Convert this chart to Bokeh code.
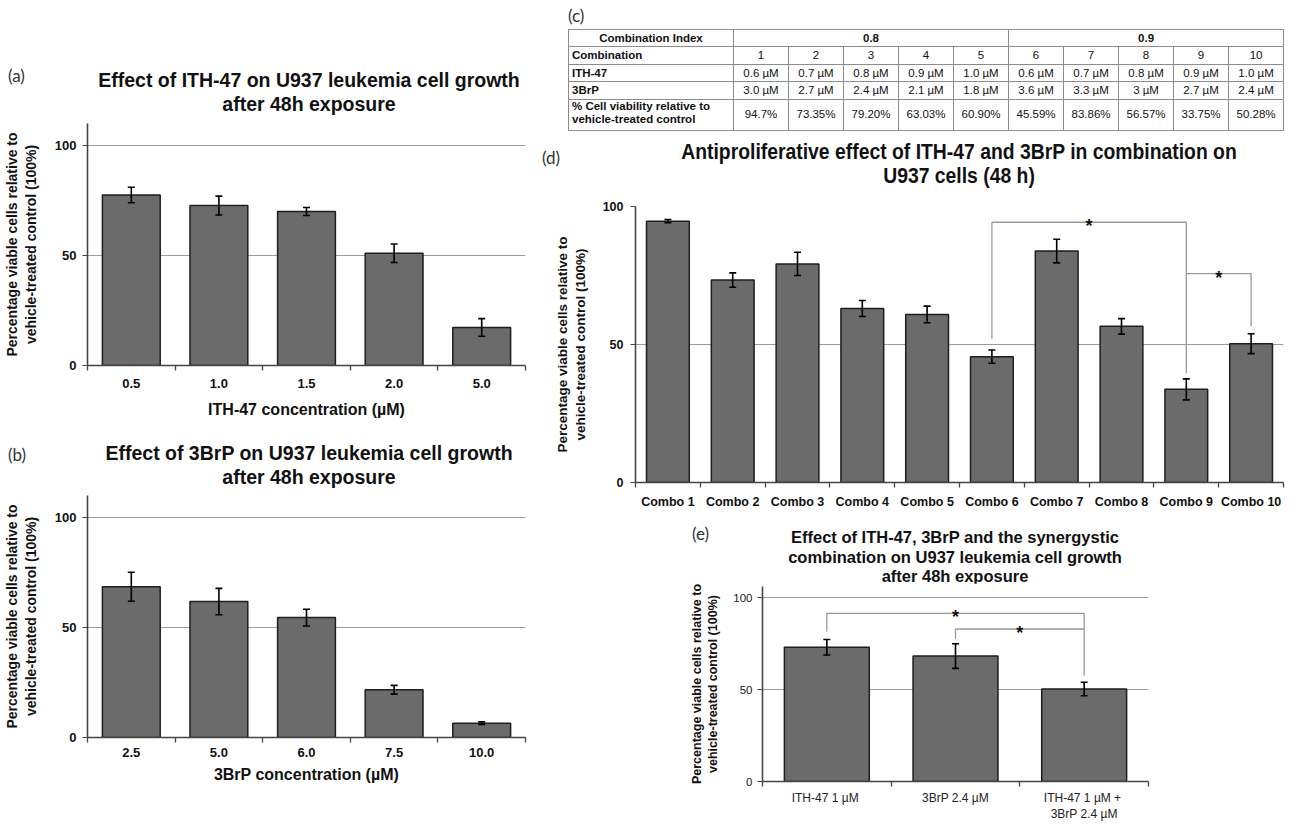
import glob
from bokeh.plotting import figure
from bokeh.models import ColumnDataSource, Whisker, TeeHead, FixedTicker, Div, Range1d
from bokeh.layouts import row, column
from bokeh.embed import file_html
from bokeh.resources import INLINE
from bokeh.core.properties import value

# ---------------- data ----------------
ith_conc = ["0.5", "1.0", "1.5", "2.0", "5.0"]
ith_viab = [77.5, 72.7, 70.0, 51.0, 17.3]
ith_err = [3.5, 4.3, 1.8, 4.2, 4.0]

brp_conc = ["2.5", "5.0", "6.0", "7.5", "10.0"]
brp_viab = [68.5, 61.8, 54.5, 21.7, 6.5]
brp_err = [6.6, 6.0, 3.8, 2.0, 0.6]

ci_groups = ["0.8", "0.9"]
combo_numbers = ["1", "2", "3", "4", "5", "6", "7", "8", "9", "10"]
combo_ith = ["0.6 µM", "0.7 µM", "0.8 µM", "0.9 µM", "1.0 µM",
             "0.6 µM", "0.7 µM", "0.8 µM", "0.9 µM", "1.0 µM"]
combo_brp = ["3.0 µM", "2.7 µM", "2.4 µM", "2.1 µM", "1.8 µM",
             "3.6 µM", "3.3 µM", "3 µM", "2.7 µM", "2.4 µM"]
combo_viab_text = ["94.7%", "73.35%", "79.20%", "63.03%", "60.90%",
                   "45.59%", "83.86%", "56.57%", "33.75%", "50.28%"]

combo_labels = ["Combo 1", "Combo 2", "Combo 3", "Combo 4", "Combo 5",
                "Combo 6", "Combo 7", "Combo 8", "Combo 9", "Combo 10"]
combo_viab = [94.7, 73.35, 79.20, 63.03, 60.90, 45.59, 83.86, 56.57, 33.75, 50.28]
combo_err = [0.6, 2.6, 4.2, 2.9, 3.0, 2.4, 4.3, 2.8, 3.8, 3.6]

d_bracket_from = [5, 8]
d_bracket_to = [8, 9]
d_bracket_top = [94.3, 75.7]
d_bracket_left_end = [52.0, 75.7]
d_bracket_right_end = [39.5, 56.6]

syn_labels = ["ITH-47  1 µM", "3BrP 2.4 µM", "ITH-47  1 µM +\n3BrP 2.4 µM"]
syn_viab = [73.0, 68.2, 50.28]
syn_err = [4.2, 6.7, 3.7]
e_bracket_from = [0, 1]
e_bracket_to = [2, 2]
e_bracket_top = [91.4, 82.9]
e_bracket_left_end = [81.6, 77.4]
e_bracket_right_end = [57.5, 82.9]

YLAB = "Percentage viable cells relative to\nvehicle-treated control (100%)"
title_a = ["Effect of ITH-47 on U937 leukemia cell growth", "after 48h exposure"]
title_b = ["Effect of 3BrP on U937 leukemia cell growth", "after 48h exposure"]
title_d = ["Antiproliferative effect of ITH-47 and 3BrP in combination on", "U937 cells (48 h)"]
title_e = ["Effect of ITH-47, 3BrP and the synergystic",
           "combination on U937 leukemia cell growth", "after 48h exposure"]

# ---------------- fonts ----------------
HAS_NARROW = bool(glob.glob("/usr/share/fonts/**/LiberationSansNarrow*", recursive=True))
SANS = "Liberation Sans"
NARROW = "Liberation Sans Narrow" if HAS_NARROW else SANS
PANEL_FONT = "Lato"
AXIS_COLOR = "#454545"


def bar_figure(cats, vals, errs, width, height, left, right, top, bottom, ymax,
               ylab_size, ytick_size, ytick_style, xtick_size, xtick_style,
               ylab_standoff, ytick_standoff, xtick_standoff, tick_color="#111111",
               xtick_font=SANS):
    n = len(cats)
    centers = [i + 0.5 for i in range(n)]
    p = figure(width=width, height=height, x_range=Range1d(0, n), y_range=Range1d(0, ymax),
               output_backend="svg", toolbar_location=None,
               min_border_left=left, min_border_right=right,
               min_border_top=top, min_border_bottom=bottom)
    if "frame_align" in p.properties():
        p.frame_align = False
    p.outline_line_color = None
    p.background_fill_color = "white"
    p.border_fill_color = "white"
    src = ColumnDataSource(dict(x=centers, top=vals,
                                upper=[v + e for v, e in zip(vals, errs)],
                                lower=[v - e for v, e in zip(vals, errs)]))
    p.vbar(x="x", top="top", bottom=0, width=0.66, source=src,
           fill_color="#6b6b6b", line_color="#1e1e1e", line_width=1.5)
    p.add_layout(Whisker(base="x", upper="upper", lower="lower", source=src,
                         level="overlay", line_color="black", line_width=1.6,
                         upper_head=TeeHead(size=7, line_color="black", line_width=1.6),
                         lower_head=TeeHead(size=7, line_color="black", line_width=1.6)))
    xa = p.xaxis[0]
    xa.ticker = FixedTicker(ticks=centers, minor_ticks=list(range(n + 1)))
    xa.major_label_overrides = {c: lab for c, lab in zip(centers, cats)}
    xa.major_tick_line_color = None
    xa.major_tick_out = 0
    xa.major_tick_in = 0
    xa.minor_tick_line_color = AXIS_COLOR
    xa.minor_tick_line_width = 1.3
    xa.minor_tick_out = 5
    xa.minor_tick_in = 0
    xa.axis_line_color = AXIS_COLOR
    xa.axis_line_width = 1.6
    xa.major_label_text_font = xtick_font
    xa.major_label_text_font_size = f"{xtick_size}px"
    xa.major_label_text_font_style = xtick_style
    xa.major_label_text_color = tick_color
    xa.major_label_standoff = xtick_standoff
    ya = p.yaxis[0]
    ya.ticker = FixedTicker(ticks=[0, 50, 100])
    ya.minor_tick_line_color = None
    ya.major_tick_out = 5
    ya.major_tick_in = 0
    ya.major_tick_line_color = AXIS_COLOR
    ya.major_tick_line_width = 1.2
    ya.axis_line_color = AXIS_COLOR
    ya.axis_line_width = 1.6
    ya.major_label_text_font = SANS
    ya.major_label_text_font_size = f"{ytick_size}px"
    ya.major_label_text_font_style = ytick_style
    ya.major_label_text_color = tick_color
    ya.major_label_standoff = ytick_standoff
    ya.axis_label = YLAB
    ya.axis_label_text_font = SANS
    ya.axis_label_text_font_size = f"{ylab_size}px"
    ya.axis_label_text_font_style = "bold"
    ya.axis_label_text_color = "#111111"
    ya.axis_label_standoff = ylab_standoff
    p.xgrid.visible = False
    p.ygrid.ticker = FixedTicker(ticks=[50, 100])
    p.ygrid.grid_line_color = "#9c9c9c"
    p.ygrid.grid_line_width = 1.2
    return p


def add_brackets(p, frm, to, tops, lends, rends, star_size=18):
    xs, ys, sx, sy = [], [], [], []
    for i, j, t, l, r in zip(frm, to, tops, lends, rends):
        xs.append([i + 0.5, i + 0.5, j + 0.5, j + 0.5])
        ys.append([l, t, t, r])
        sx.append((i + j) / 2 + 0.5)
        sy.append(t)
    p.multi_line(xs=xs, ys=ys, line_color="#9a9a9a", line_width=1.3)
    p.text(x=sx, y=sy, text=["*"] * len(sx), text_font=value(SANS),
           text_font_size=value(f"{star_size}px"), text_font_style="bold",
           text_align="center", text_baseline="alphabetic", y_offset=4,
           text_color="#111111")


def header_div(width, height, panel, px, py, lines, tx, ty, size, line_h, font, sx=1.0):
    """py / ty: vertical centre of the panel letter / first title line."""
    html = (f'<div style="position:relative;width:{width}px;height:{height}px;">'
            f'<div style="position:absolute;left:{px}px;top:{py - 11}px;font-family:{PANEL_FONT};'
            f'font-size:17px;line-height:22px;color:#333;">{panel}</div>'
            f'<div style="position:absolute;left:{tx}px;top:{ty - line_h / 2}px;'
            f'transform:translateX(-50%) scaleX({sx});transform-origin:50% 0;'
            f'text-align:center;white-space:nowrap;font-family:\'{font}\',\'Liberation Sans\',sans-serif;'
            f'font-weight:bold;font-size:{size}px;line-height:{line_h}px;color:#111;">'
            + "<br>".join(lines) + "</div></div>")
    return Div(text=html, width=width, height=height, margin=0)


def xlabel(p, text, standoff):
    p.xaxis.axis_label = text
    p.xaxis.axis_label_text_font = SANS
    p.xaxis.axis_label_text_font_size = "16px"
    p.xaxis.axis_label_text_font_style = "bold"
    p.xaxis.axis_label_text_color = "#111111"
    p.xaxis.axis_label_standoff = standoff


# ---------------- (a) ----------------
hdr_a = header_div(540, 115, "(a)", 8, 76, title_a, 309, 80, 19.5, 24, SANS)
fa = bar_figure(ith_conc, ith_viab, ith_err, width=540, height=310,
                left=87, right=15, top=8, bottom=60, ymax=110,
                ylab_size=14, ytick_size=13, ytick_style="bold",
                xtick_size=13, xtick_style="bold",
                ylab_standoff=13, ytick_standoff=6, xtick_standoff=8)
xlabel(fa, "ITH-47 concentration (µM)", 10)

# ---------------- (b) ----------------
hdr_b = header_div(540, 64, "(b)", 8, 30, title_b, 309, 28, 19.5, 24, SANS)
fb = bar_figure(brp_conc, brp_viab, brp_err, width=540, height=301,
                left=87, right=15, top=6, bottom=53, ymax=110,
                ylab_size=14, ytick_size=13, ytick_style="bold",
                xtick_size=13, xtick_style="bold",
                ylab_standoff=13, ytick_standoff=6, xtick_standoff=5)
xlabel(fb, "3BrP concentration (µM)", 6)

# ---------------- (c) table ----------------
hdr_size = "12.5px" if HAS_NARROW else "11.5px"
val_size = "12.5px" if HAS_NARROW else "11.5px"
td = ("border:1px solid #8c8c8c;padding:0 3px;white-space:nowrap;overflow:hidden;"
      f"font-size:{val_size};color:#111;")
lab = td + f"font-weight:bold;text-align:left;vertical-align:top;font-size:{hdr_size};"
num = td + "text-align:center;vertical-align:bottom;"
trs = []
trs.append('<tr style="height:16px">'
           f'<td style="{td}font-weight:bold;text-align:center;font-size:{hdr_size};">Combination Index</td>'
           + "".join(f'<td colspan="5" style="{td}font-weight:bold;text-align:center;font-size:{hdr_size};">{g}</td>'
                     for g in ci_groups) + "</tr>")
trs.append('<tr style="height:17px">' + f'<td style="{lab}">Combination</td>'
           + "".join(f'<td style="{num}">{c}</td>' for c in combo_numbers) + "</tr>")
trs.append('<tr style="height:17px">' + f'<td style="{lab}">ITH-47</td>'
           + "".join(f'<td style="{num}">{c}</td>' for c in combo_ith) + "</tr>")
trs.append('<tr style="height:17px">' + f'<td style="{lab}">3BrP</td>'
           + "".join(f'<td style="{num}">{c}</td>' for c in combo_brp) + "</tr>")
trs.append('<tr style="height:31px">'
           + f'<td style="{lab}line-height:1.15;">% Cell viability relative to<br>vehicle-treated control</td>'
           + "".join(f'<td style="{td}text-align:center;vertical-align:middle;">{c}</td>' for c in combo_viab_text)
           + "</tr>")
colgroup = '<colgroup><col style="width:165px">' + '<col style="width:55px">' * 10 + "</colgroup>"
table_html = (
    f'<div style="position:relative;width:754px;height:135px;font-family:\'{NARROW}\',\'Liberation Sans\',Arial,sans-serif;">'
    f'<div style="position:absolute;left:28px;top:5px;font-family:{PANEL_FONT};font-size:17px;line-height:22px;color:#333;">(c)</div>'
    '<table style="position:absolute;left:28px;top:29px;width:716px;border-collapse:collapse;table-layout:fixed;">'
    + colgroup + "".join(trs) + "</table></div>")
div_c = Div(text=table_html, width=754, height=135, margin=0)

# ---------------- (d) ----------------
hdr_d = header_div(754, 61, "(d)", 2, 23, title_d, 419, 17,
                   21 if HAS_NARROW else 21.5, 24, NARROW, sx=1.0 if HAS_NARROW else 0.9)
fd = bar_figure(combo_labels, combo_viab, combo_err, width=754, height=319,
                left=95, right=11, top=10, bottom=33, ymax=100,
                ylab_size=13.5, ytick_size=12.5, ytick_style="bold",
                xtick_size=13 if HAS_NARROW else 12.5, xtick_style="bold",
                ylab_standoff=12, ytick_standoff=7, xtick_standoff=7,
                xtick_font=NARROW)
add_brackets(fd, d_bracket_from, d_bracket_to, d_bracket_top, d_bracket_left_end, d_bracket_right_end)

# ---------------- (e) ----------------
hdr_e = header_div(754, 68, "(e)", 152, 19, title_e, 415, 23, 16.5, 19.5, SANS)
fe = bar_figure(syn_labels, syn_viab, syn_err, width=754, height=241,
                left=222, right=146, top=3, bottom=34, ymax=106,
                ylab_size=12.5, ytick_size=11.5, ytick_style="normal",
                xtick_size=12, xtick_style="normal",
                ylab_standoff=10, ytick_standoff=5, xtick_standoff=4, tick_color="#222222")
add_brackets(fe, e_bracket_from, e_bracket_to, e_bracket_top, e_bracket_left_end, e_bracket_right_end)

layout = row(column(hdr_a, fa, hdr_b, fb, spacing=0),
             column(div_c, hdr_d, fd, hdr_e, fe, spacing=0), spacing=0)

open("out.html", "w").write(file_html(layout, INLINE))
